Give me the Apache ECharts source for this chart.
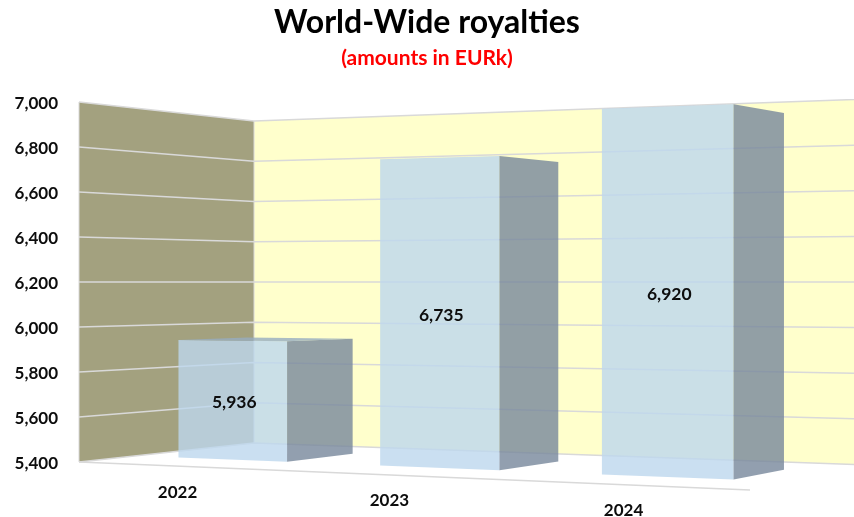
<!DOCTYPE html>
<html>
<head>
<meta charset="utf-8">
<title>World-Wide royalties</title>
<script src="https://cdn.jsdelivr.net/npm/echarts@6/dist/echarts.min.js"></script>
<style>
  html, body { margin: 0; padding: 0; background: #fff; }
  #chart { width: 854px; height: 517px; }
</style>
</head>
<body>
<div id="chart"></div>
<script>
// Royalties per year, in EURk
const categories = ['2022', '2023', '2024'];
const royalties = [5936, 6735, 6920];
const yTicks = [5400, 5600, 5800, 6000, 6200, 6400, 6600, 6800, 7000];
const titleText = 'World-Wide royalties';
const subtitleText = '(amounts in EURk)';

const FONT = 'Lato, "Open Sans", sans-serif';
const TEXT_DARK = '#0d0d0d';
const GRID_LINE = '#d9d9d9';

// Plot rectangle: the front-left wall edge carries the value scale.
const PLOT = { left: 79, top: 102, width: 671, height: 360 };

// Camera for the floor plane: unit square (u along the years, w into the depth)
// is mapped on this quadrilateral.
const FLOOR = {
  frontLeft: [79, 462], frontRight: [750, 490],
  backRight: [871, 465], backLeft: [254, 443]
};
const BAR_WIDTH_RATIO = 0.55;
const BAR_DEPTH = [0.30, 0.70];

function floorHomography(q) {
  const [x0, y0] = q.frontLeft, [x1, y1] = q.frontRight, [x2, y2] = q.backRight, [x3, y3] = q.backLeft;
  const dx1 = x1 - x2, dx2 = x3 - x2, sx = x0 - x1 + x2 - x3;
  const dy1 = y1 - y2, dy2 = y3 - y2, sy = y0 - y1 + y2 - y3;
  const den = dx1 * dy2 - dx2 * dy1;
  const g = (sx * dy2 - dx2 * sy) / den;
  const h = (dx1 * sy - sx * dy1) / den;
  return {
    a: x1 - x0 + g * x1, b: x3 - x0 + h * x3, c: x0,
    d: y1 - y0 + g * y1, e: y3 - y0 + h * y3, f: y0, g, h
  };
}
const H = floorHomography(FLOOR);

// Project a floor position plus a pixel height.
// Heights scale towards the horizon, which sits at mid-height of the value axis.
function project(u, w, axisY, cs) {
  const k = H.g * u + H.h * w + 1;
  const x = (H.a * u + H.b * w + H.c) / k;
  const floorY = (H.d * u + H.e * w + H.f) / k;
  const horizon = cs.y + cs.height / 2;
  const scale = (floorY - horizon) / (cs.y + cs.height - horizon);
  return [x, horizon + (axisY - horizon) * scale];
}

const WALL_END_U = 1.05; // back wall runs on past the right edge of the canvas

function renderWalls(params, api) {
  const cs = params.coordSys;
  const yMin = api.coord([0, yTicks[0]])[1];
  const yMax = api.coord([0, yTicks[yTicks.length - 1]])[1];
  const quad = (u0, w0, u1, w1, fill) => ({
    type: 'polygon',
    shape: { points: [
      project(u0, w0, yMax, cs), project(u1, w1, yMax, cs),
      project(u1, w1, yMin, cs), project(u0, w0, yMin, cs)
    ] },
    style: { fill: fill }
  });
  return {
    type: 'group',
    children: [
      quad(0, 0, 0, 1, '#a3a17f'),
      quad(0, 1, WALL_END_U, 1, '#ffffcc'),
      { type: 'line', shape: { x1: project(0, 0, yMin, cs)[0], y1: project(0, 0, yMin, cs)[1],
                               x2: project(0, 0, yMax, cs)[0], y2: project(0, 0, yMax, cs)[1] },
        style: { stroke: GRID_LINE, lineWidth: 1 } },
      { type: 'line', shape: { x1: project(0, 1, yMin, cs)[0], y1: project(0, 1, yMin, cs)[1],
                               x2: project(0, 1, yMax, cs)[0], y2: project(0, 1, yMax, cs)[1] },
        style: { stroke: GRID_LINE, lineWidth: 1 } },
      { type: 'polyline',
        shape: { points: [project(0, 0, yMin, cs), project(1, 0, yMin, cs)] },
        style: { stroke: GRID_LINE, lineWidth: 1.6, fill: 'none' } }
    ]
  };
}

function renderGridLine(params, api) {
  const cs = params.coordSys;
  const y = api.coord([0, api.value(1)])[1];
  return {
    type: 'polyline',
    shape: { points: [project(0, 0, y, cs), project(0, 1, y, cs), project(WALL_END_U, 1, y, cs)] },
    style: { stroke: GRID_LINE, lineWidth: 1.5, fill: 'none' }
  };
}

function renderBar(params, api) {
  const cs = params.coordSys;
  const value = api.value(1);
  const top = api.coord([api.value(0), value]);
  const baseY = api.coord([api.value(0), yTicks[0]])[1];
  const uc = (top[0] - cs.x) / cs.width;
  const halfU = api.size([1, 0])[0] * BAR_WIDTH_RATIO / cs.width / 2;
  const u0 = uc - halfU, u1 = uc + halfU;
  const [w0, w1] = BAR_DEPTH;

  const fl = project(u0, w0, top[1], cs), fr = project(u1, w0, top[1], cs);
  const bl = project(u0, w1, top[1], cs), br = project(u1, w1, top[1], cs);
  const flb = project(u0, w0, baseY, cs), frb = project(u1, w0, baseY, cs);
  const brb = project(u1, w1, baseY, cs);

  const face = (points, fill) => ({ type: 'polygon', shape: { points }, style: { fill } });
  const children = [
    face([fl, fr, frb, flb], 'rgba(189,215,238,0.8)'),
    face([fr, br, brb, frb], 'rgba(119,135,155,0.8)')
  ];
  // The top face can only be seen from above, i.e. below the horizon.
  if (top[1] > cs.y + cs.height / 2) {
    children.push(face([fl, bl, br, fr], 'rgba(150,172,192,0.8)'));
  }
  const center = [(fl[0] + fr[0] + frb[0] + flb[0]) / 4, (fl[1] + fr[1] + frb[1] + flb[1]) / 4];
  children.push({
    type: 'text',
    style: {
      text: value.toLocaleString('en-US'),
      x: center[0] + 1.5, y: center[1] + 2.5,
      align: 'center', verticalAlign: 'middle',
      font: 'bold 17.5px ' + FONT, fill: TEXT_DARK
    }
  });
  const front = project(uc, 0, baseY, cs);
  children.push({
    type: 'text',
    style: {
      text: categories[api.value(0)],
      x: front[0], y: front[1] + 26,
      align: 'center', verticalAlign: 'middle',
      font: 'bold 17px ' + FONT, fill: TEXT_DARK
    }
  });
  return { type: 'group', children };
}

const chart = echarts.init(document.getElementById('chart'), null, { renderer: 'canvas' });
chart.setOption({
  animation: false,
  backgroundColor: '#ffffff',
  title: [
    { text: titleText, left: 'center', top: 2,
      textStyle: { fontFamily: FONT, fontSize: 32, fontWeight: 'bold', color: '#000000' } },
    { text: subtitleText, left: 'center', top: 43,
      textStyle: { fontFamily: FONT, fontSize: 21, fontWeight: 'bold', color: '#ff0000' } }
  ],
  grid: { left: PLOT.left, top: PLOT.top, width: PLOT.width, height: PLOT.height, containLabel: false },
  xAxis: { type: 'category', data: categories, show: false },
  yAxis: {
    type: 'value', min: 5400, max: 7000, interval: 200,
    axisLine: { show: false }, axisTick: { show: false }, splitLine: { show: false },
    axisLabel: {
      margin: 21,
      formatter: v => '{tick|' + v.toLocaleString('en-US') + '}',
      rich: {
        tick: {
          color: TEXT_DARK, fontFamily: FONT, fontSize: 17, fontWeight: 'bold',
          padding: [4, 0, 0, 0]
        }
      }
    }
  },
  series: [
    { type: 'custom', coordinateSystem: 'cartesian2d', z: 1, silent: true, clip: false,
      data: [[0, yTicks[0]]], encode: { x: 0, y: 1 }, renderItem: renderWalls },
    { type: 'custom', coordinateSystem: 'cartesian2d', z: 2, silent: true, clip: false,
      data: yTicks.map(t => [0, t]), encode: { x: 0, y: 1 }, renderItem: renderGridLine },
    { type: 'custom', coordinateSystem: 'cartesian2d', z: 3, silent: true, clip: false,
      data: royalties.map((v, i) => [i, v]), encode: { x: 0, y: 1 }, renderItem: renderBar }
  ]
});
</script>
</body>
</html>
